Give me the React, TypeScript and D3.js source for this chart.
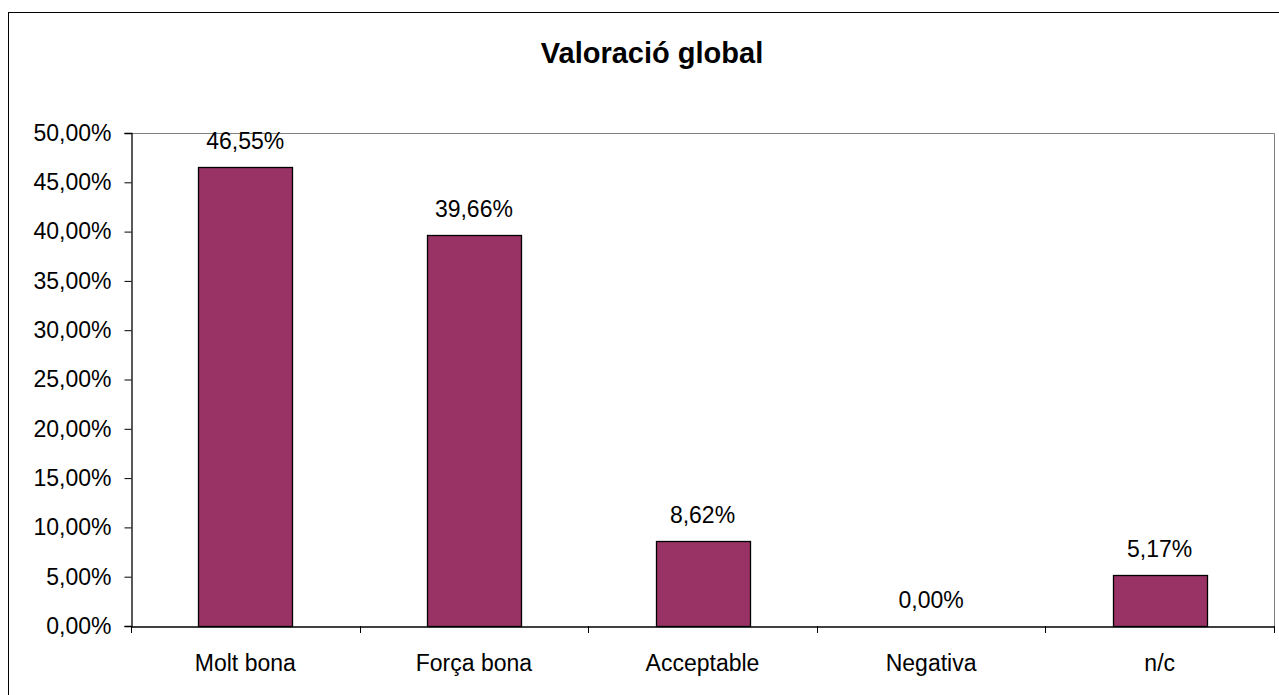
import React, { useEffect, useRef } from "react";
import * as d3 from "d3";

const categories = ["Molt bona", "Força bona", "Acceptable", "Negativa", "n/c"];
const values = [46.55, 39.66, 8.62, 0.0, 5.17];
const yTicks = [0, 5, 10, 15, 20, 25, 30, 35, 40, 45, 50];

const fmt = (v: number) => v.toFixed(2).replace(".", ",") + "%";

export default function App() {
  const ref = useRef<SVGSVGElement>(null);

  useEffect(() => {
    const width = 1279,
      height = 695;
    const left = 131,
      right = 1274,
      top = 133,
      bottom = 626;
    const font = "Arial, 'Liberation Sans', sans-serif";
    const fs = 23;

    const svg = d3.select(ref.current);
    svg.selectAll("*").remove();

    svg.append("rect").attr("width", width).attr("height", height).attr("fill", "white");

    // outer chart frame (runs off the right / bottom edge)
    svg
      .append("rect")
      .attr("x", 8.5)
      .attr("y", 12.5)
      .attr("width", 1290)
      .attr("height", 700)
      .attr("fill", "none")
      .attr("stroke", "black");

    const x = d3.scaleBand().domain(categories).range([left, right]).paddingInner(0.59).paddingOuter(0.295);
    const band = d3.scaleBand().domain(categories).range([left, right]);
    const y = d3.scaleLinear().domain([0, 50]).range([bottom, top]);

    // plot area border top/right
    svg
      .append("path")
      .attr("d", `M${left},${top + 0.5}H${right + 0.5}V${bottom}`)
      .attr("fill", "none")
      .attr("stroke", "#808080");

    svg
      .append("text")
      .attr("x", 652)
      .attr("y", 63)
      .attr("text-anchor", "middle")
      .attr("font-family", font)
      .attr("font-weight", "bold")
      .attr("font-size", 29)
      .text("Valoració global");

    svg
      .selectAll("rect.bar")
      .data(values)
      .join("rect")
      .attr("class", "bar")
      .attr("x", (_, i) => Math.round(x(categories[i])!) + 0.5)
      .attr("y", (d) => Math.round(y(d)) + 0.5)
      .attr("width", Math.round(x.bandwidth()))
      .attr("height", (d) => Math.round(bottom - y(d)))
      .attr("fill", "#993366")
      .attr("stroke", "black")
      .attr("stroke-width", 1.3);

    svg
      .selectAll("text.val")
      .data(values)
      .join("text")
      .attr("class", "val")
      .attr("x", (_, i) => band(categories[i])! + band.bandwidth() / 2)
      .attr("y", (d) => y(d) - 18)
      .attr("text-anchor", "middle")
      .attr("font-family", font)
      .attr("font-size", fs)
      .text((d) => fmt(d));

    const yAxis = svg
      .append("g")
      .attr("transform", `translate(${left + 0.5},0)`)
      .call(
        d3
          .axisLeft(y)
          .tickValues(yTicks)
          .tickSize(7)
          .tickPadding(13)
          .tickFormat((d) => fmt(d as number))
      );
    yAxis.select(".domain").attr("stroke", "black").attr("stroke-width", 1.3);
    yAxis.selectAll("text").attr("font-family", font).attr("font-size", fs).attr("fill", "black");

    const xAxis = svg
      .append("g")
      .attr("transform", `translate(0,${bottom + 0.5})`)
      .call(d3.axisBottom(band).tickSize(0).tickPadding(28));
    xAxis.select(".domain").attr("stroke", "black").attr("stroke-width", 1.3);
    xAxis.selectAll("text").attr("font-family", font).attr("font-size", fs).attr("fill", "black");

    // category boundary ticks
    const bounds = categories.map((c) => band(c)!).concat([right]);
    svg
      .selectAll("line.xt")
      .data(bounds)
      .join("line")
      .attr("class", "xt")
      .attr("x1", (d) => Math.round(d) + 0.5)
      .attr("x2", (d) => Math.round(d) + 0.5)
      .attr("y1", bottom)
      .attr("y2", bottom + 7)
      .attr("stroke", "black");
  }, []);

  return (
    <svg
      ref={ref}
      width={1279}
      height={695}
      style={{ position: "absolute", left: 0, top: 0 }}
    />
  );
}
